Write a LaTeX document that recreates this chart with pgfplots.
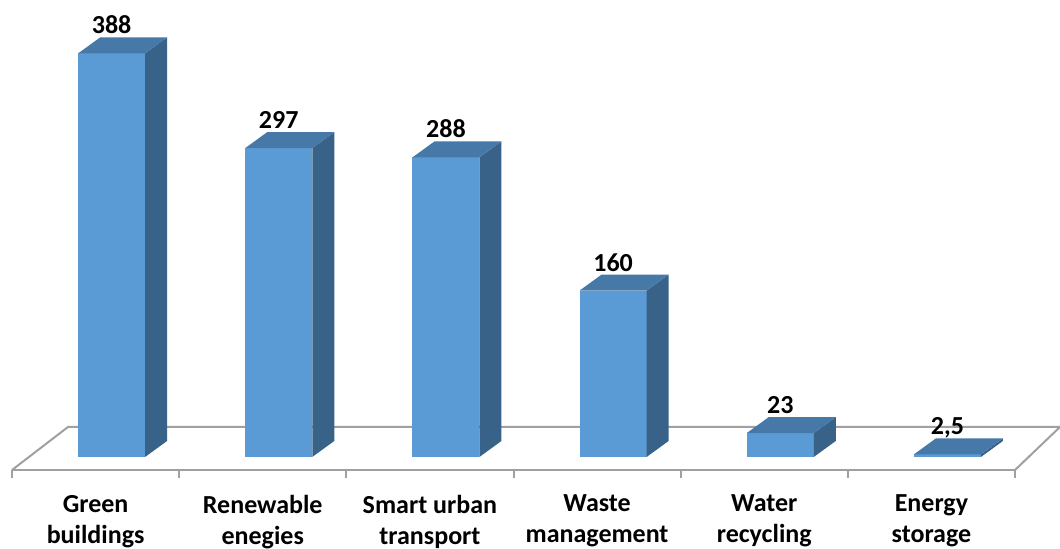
\documentclass[border=0pt]{standalone}
\usepackage{fontspec}
\setmainfont{Carlito}
\usepackage{pgfplots}
\usepackage{pgfplotstable}
\pgfplotsset{compat=1.18}

\definecolor{barfront}{RGB}{91,155,213}
\definecolor{bartop}{RGB}{70,120,168}
\definecolor{barside}{RGB}{57,98,137}
\definecolor{floorline}{RGB}{160,160,160}

\newdimen\barh

% investment by sector
\pgfplotstableread{
i v
0 388
1 297
2 288
3 160
4 23
5 2.5
}\investdata

\begin{document}
\begin{tikzpicture}
\begin{axis}[
  at={(6pt,39.5pt)}, anchor=south west,
  scale only axis, width=501.5pt, height=235pt,
  xmin=-0.5, xmax=5.5, ymin=-12.5, ymax=439.4,
  clip=false,
  axis x line=bottom, axis y line=none,
  x axis line style={-, draw=floorline, line width=1pt},
  xtick={0,...,5},
  xticklabels={{Green\\buildings},{Renewable\\enegies},{Smart urban\\transport},{Waste\\management},{Water\\recycling},{Energy\\storage}},
  minor xtick={-0.5,0.5,...,5.5},
  major tick length=0pt, minor tick length=4pt,
  tick align=outside,
  tick style={draw=floorline, line width=1pt},
  minor tick style={draw=floorline, line width=1pt},
  xticklabel style={align=center, font=\bfseries\fontsize{13}{15.5}\selectfont, yshift=-9pt},
  /pgf/number format/use comma,
  /pgf/number format/assume math mode=true,
]
% floor of the 3-D plot area
\addplot[draw=floorline, line width=1pt, mark=none]
  coordinates {(-0.5,-12.5) (-0.165,28.85) (5.769,28.85) (5.5,-12.5)};

% 3-D columns: front, side and top faces around each data point
\addplot[
  scatter, only marks,
  mark=text, text mark={},
  visualization depends on={\thisrow{v} \as \val},
  scatter/@pre marker code/.code={%
    \barh=0.52pt \barh=\val\barh
    \edef\h{\the\barh}%
    \path[fill=barfront, draw=none] (-8.75pt,0pt) rectangle (24.75pt,-\h);
    \path[fill=barside, draw=none] (24.75pt,0pt) -- (35.75pt,8pt) -- (35.75pt,8pt-\h) -- (24.75pt,-\h) -- cycle;
    \path[fill=bartop, draw=none] (-8.75pt,0pt) -- (24.75pt,0pt) -- (35.75pt,8pt) -- (2.25pt,8pt) -- cycle;
  },
  scatter/@post marker code/.code={},
] table[x=i, y=v] {\investdata};

% value labels above the columns
\addplot[
  only marks, mark=none,
  nodes near coords,
  every node near coord/.append style={anchor=base, xshift=8pt, yshift=9.75pt,
    font=\bfseries\fontsize{13}{15.6}\selectfont, text=black},
] table[x=i, y=v] {\investdata};
\end{axis}
\pgfresetboundingbox
\path[use as bounding box] (0pt,0pt) rectangle (530pt,274.5pt);
\end{tikzpicture}
\end{document}
